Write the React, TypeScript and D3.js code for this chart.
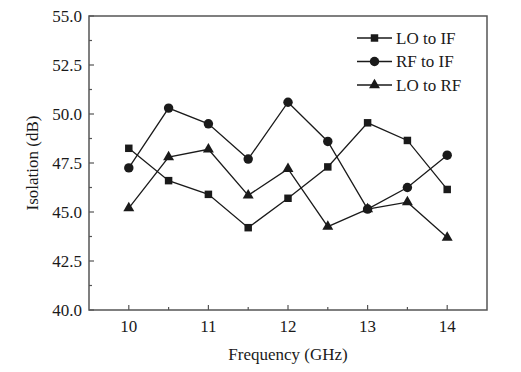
import React from 'react';
import * as d3 from 'd3';

const width = 521;
const height = 372;
const margin = {top: 16, right: 34, bottom: 62, left: 89};
const ink = '#1a1a1a';
const axisColor = '#555';
const font = '"Liberation Serif", "DejaVu Serif", serif';
const fontSize = 17;

const freqs = [10, 10.5, 11, 11.5, 12, 12.5, 13, 13.5, 14];
const loToIf = [48.25, 46.6, 45.9, 44.2, 45.7, 47.3, 49.55, 48.65, 46.15];
const rfToIf = [47.25, 50.3, 49.5, 47.7, 50.6, 48.6, 45.15, 46.25, 47.9];
const loToRf = [45.2, 47.8, 48.2, 45.85, 47.2, 44.25, 45.15, 45.5, 43.7];
const xTicks = [10, 11, 12, 13, 14];
const xMinor = [10.5, 11.5, 12.5, 13.5];
const yTicks = [40, 42.5, 45, 47.5, 50, 52.5, 55];
const yMinor = [41.25, 43.75, 46.25, 48.75, 51.25, 53.75];

const series = [
  {name: 'LO to IF', values: loToIf, shape: 'square'},
  {name: 'RF to IF', values: rfToIf, shape: 'circle'},
  {name: 'LO to RF', values: loToRf, shape: 'triangle'},
];

const x = d3.scaleLinear().domain([9.5, 14.5]).range([margin.left, width - margin.right]);
const y = d3.scaleLinear().domain([40, 55]).range([height - margin.bottom, margin.top]);

const symbols: Record<string, d3.SymbolType> = {
  square: d3.symbolSquare,
  circle: d3.symbolCircle,
  triangle: d3.symbolTriangle,
};
const sizes: Record<string, number> = {square: 56, circle: 70, triangle: 52};

function Marker({shape, cx, cy}: {shape: string; cx: number; cy: number}) {
  const path = d3.symbol().type(symbols[shape]).size(sizes[shape])();
  return <path d={path || ''} transform={`translate(${cx},${cy})`} fill={ink} />;
}

export default function App() {
  const line = d3.line<number>()
    .x((_, i) => x(freqs[i]))
    .y(d => y(d));
  const x0 = margin.left;
  const x1 = width - margin.right;
  const y0 = height - margin.bottom;
  const y1 = margin.top;

  return (
    <svg width={width} height={height} style={{position: 'absolute', left: 0, top: 0}}>
      <rect width={width} height={height} fill="#fff" />
      {/* frame */}
      <rect x={x0} y={y1} width={x1 - x0} height={y0 - y1} fill="none" stroke={axisColor} strokeWidth={1.5} />
      {/* y ticks */}
      {yTicks.map(t => (
        <g key={t}>
          <line x1={x0} x2={x0 + 5} y1={y(t)} y2={y(t)} stroke={axisColor} strokeWidth={1.2} />
          <text x={x0 - 7} y={y(t)} dy="0.35em" textAnchor="end" fontFamily={font} fontSize={fontSize} fill={ink}>
            {t.toFixed(1)}
          </text>
        </g>
      ))}
      {yMinor.map(t => (
        <line key={t} x1={x0} x2={x0 + 3} y1={y(t)} y2={y(t)} stroke={axisColor} strokeWidth={1.2} />
      ))}
      {/* x ticks */}
      {xTicks.map(t => (
        <g key={t}>
          <line x1={x(t)} x2={x(t)} y1={y0} y2={y0 - 5} stroke={axisColor} strokeWidth={1.2} />
          <text x={x(t)} y={y0 + 22} textAnchor="middle" fontFamily={font} fontSize={fontSize} fill={ink}>
            {t}
          </text>
        </g>
      ))}
      {xMinor.map(t => (
        <line key={t} x1={x(t)} x2={x(t)} y1={y0} y2={y0 - 3} stroke={axisColor} strokeWidth={1.2} />
      ))}
      {/* axis titles */}
      <text x={(x0 + x1) / 2} y={y0 + 50} textAnchor="middle" fontFamily={font} fontSize={fontSize} fill={ink}>
        Frequency (GHz)
      </text>
      <text transform={`translate(38,${(y0 + y1) / 2}) rotate(-90)`} textAnchor="middle" fontFamily={font} fontSize={fontSize} fill={ink}>
        Isolation (dB)
      </text>
      {/* series */}
      {series.map(s => (
        <g key={s.name}>
          <path d={line(s.values) || ''} fill="none" stroke={ink} strokeWidth={1.3} />
          {s.values.map((v, i) => (
            <Marker key={i} shape={s.shape} cx={x(freqs[i])} cy={y(v)} />
          ))}
        </g>
      ))}
      {/* legend */}
      {series.map((s, i) => {
        const ly = 38 + i * 23.5;
        return (
          <g key={s.name}>
            <line x1={357} x2={392} y1={ly} y2={ly} stroke={ink} strokeWidth={1.3} />
            <Marker shape={s.shape} cx={374.5} cy={ly} />
            <text x={396} y={ly} dy="0.35em" fontFamily={font} fontSize={fontSize} fill={ink}>
              {s.name}
            </text>
          </g>
        );
      })}
    </svg>
  );
}
